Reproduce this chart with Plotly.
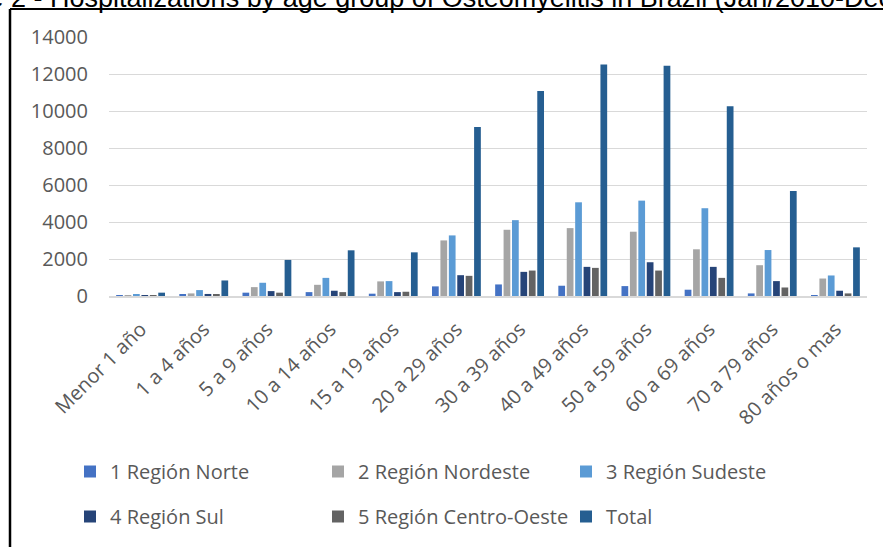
import plotly.graph_objects as go

# Age groups (x categories)
age_groups = ["Menor 1 año", "1 a 4 años", "5 a 9 años", "10 a 14 años", "15 a 19 años",
              "20 a 29 años", "30 a 39 años", "40 a 49 años", "50 a 59 años",
              "60 a 69 años", "70 a 79 años", "80 años o mas"]

# Hospitalizations per region
norte = [4, 80, 180, 210, 125, 520, 625, 555, 535, 340, 140, 35]
nordeste = [6, 140, 480, 605, 790, 3005, 3580, 3670, 3475, 2525, 1665, 945]
sudeste = [60, 320, 715, 980, 805, 3275, 4100, 5065, 5155, 4745, 2485, 1110]
sul = [5, 110, 265, 285, 210, 1125, 1305, 1575, 1825, 1575, 805, 285]
centro_oeste = [4, 70, 180, 210, 230, 1090, 1375, 1520, 1375, 980, 460, 140]
total = [180, 840, 1950, 2470, 2360, 9130, 11085, 12515, 12445, 10260, 5675, 2630]

series_names = ["1 Región Norte", "2 Región Nordeste", "3 Región Sudeste",
                "4 Región Sul", "5 Región Centro-Oeste", "Total"]
series_values = [norte, nordeste, sudeste, sul, centro_oeste, total]
series_colors = ["#4472C4", "#A5A5A5", "#5B9BD5", "#264478", "#636363", "#255E91"]
series_legend = ["legend", "legend", "legend", "legend2", "legend2", "legend2"]

W, H = 883, 547
ML, MR, MT, MB = 109, 16, 37, 250
PW, PH = W - ML - MR, H - MT - MB


def px_x(x):
    return (x - ML) / PW


def px_y(y):
    return 1 + (MT - y) / PH


FONT = "Open Sans"
GREY = "#595959"

fig = go.Figure()
for name, vals, col, lg in zip(series_names, series_values, series_colors, series_legend):
    fig.add_trace(go.Bar(name=name, x=age_groups, y=vals, marker_color=col,
                         marker_line_width=0, legend=lg))

legend_common = dict(orientation="h", xanchor="left", yanchor="middle",
                     font=dict(family=FONT, size=20, color=GREY),
                     entrywidth=203, entrywidthmode="pixels",
                     bgcolor="rgba(0,0,0,0)", itemclick=False, itemdoubleclick=False)

fig.update_layout(
    width=W, height=H,
    margin=dict(l=ML, r=MR, t=MT, b=MB),
    paper_bgcolor="white", plot_bgcolor="white",
    barmode="group", bargap=0.2, bargroupgap=0.2,
    font=dict(family=FONT, size=20, color=GREY),
    xaxis=dict(tickangle=-45, tickfont=dict(family=FONT, size=20, color=GREY),
               showline=True, linecolor="#D9D9D9", linewidth=1.5, ticks="",
               showgrid=False, ticklabelstandoff=12),
    yaxis=dict(range=[0, 14000], dtick=2000, tickformat="d",
               tickfont=dict(family=FONT, size=20, color=GREY),
               showgrid=True, gridcolor="#D9D9D9", gridwidth=1.3,
               zeroline=False, showline=False, ticks="", ticklabelstandoff=20),
    legend=dict(x=px_x(70), y=px_y(471.5), **legend_common),
    legend2=dict(x=px_x(70), y=px_y(516.5), **legend_common),
    showlegend=True,
)

# Caption above the framed chart (only its lower part falls inside the page)
fig.add_annotation(text="Figure 2 - Hospitalizations by age group of Osteomyelitis in Brazil (Jan/2010-Dec/2019)",
                   xref="paper", yref="paper", x=px_x(-75), y=px_y(14.5),
                   xanchor="left", yanchor="bottom", showarrow=False,
                   font=dict(family="Liberation Sans", size=27, color="black"))

# Frame around the chart
fig.add_shape(type="line", xref="paper", yref="paper", x0=px_x(10), x1=px_x(W + 5),
              y0=px_y(9), y1=px_y(9), line=dict(color="black", width=2))
fig.add_shape(type="line", xref="paper", yref="paper", x0=px_x(10), x1=px_x(10),
              y0=px_y(9), y1=px_y(H + 5), line=dict(color="black", width=2.5))

fig.write_html("out.html")
